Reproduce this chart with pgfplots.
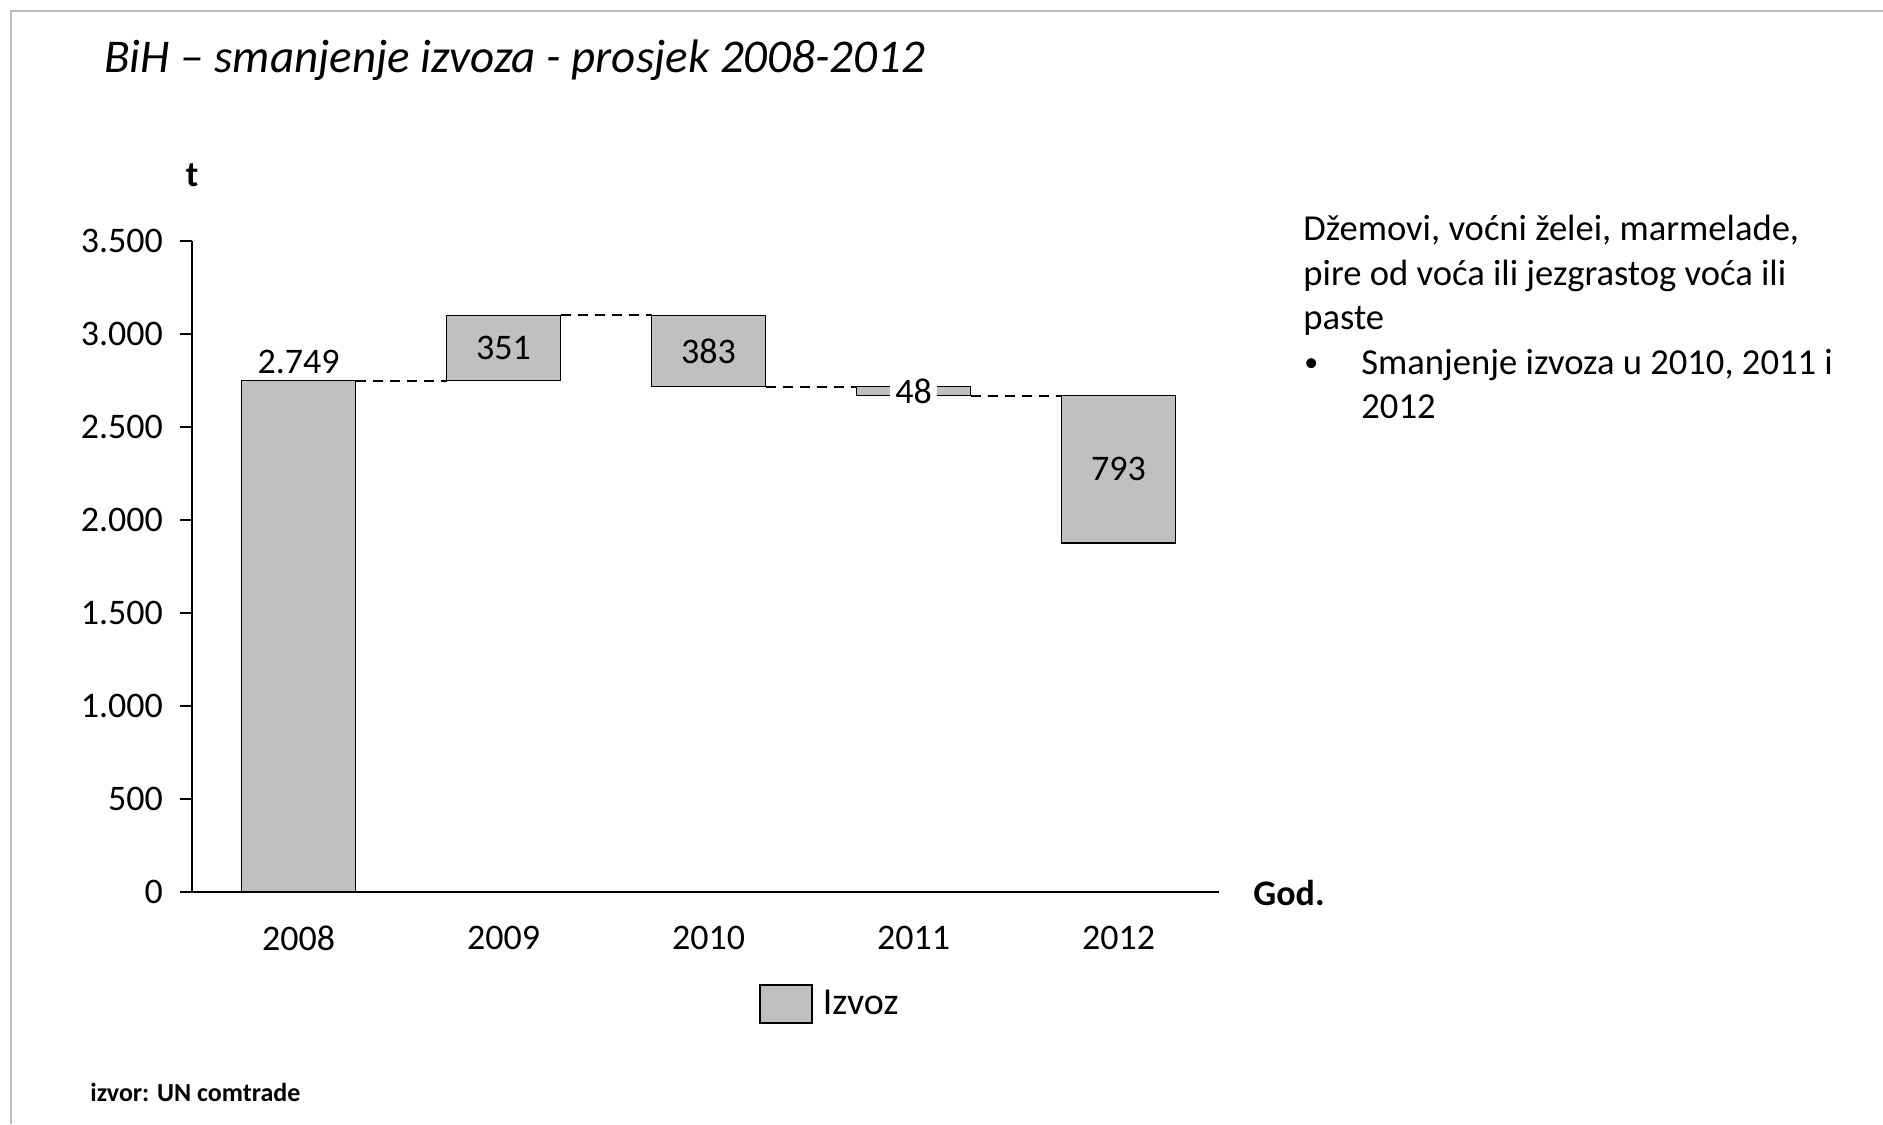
\documentclass[border=0pt]{standalone}
\usepackage{fontspec}
\setmainfont{Carlito}
\usepackage{pgfplots}
\pgfplotsset{compat=1.18}
\definecolor{barfill}{RGB}{192,192,192}
\definecolor{framegray}{RGB}{190,190,190}
\begin{document}
\begin{tikzpicture}
\path[use as bounding box] (0,0) rectangle (941.5pt,562pt);
\draw[framegray, line width=1.2pt] (5.5pt,0) -- (5.5pt,556.5pt) -- (941.5pt,556.5pt);
\pgfplotsset{
  wf/.style={
    scale only axis, width=513.5pt, height=325.5pt,
    at={(96pt,116pt)}, anchor=south west,
    xmin=-0.52, xmax=4.49, ymin=0, ymax=3500,
  }
}
\begin{axis}[wf,
  ybar stacked, bar width=57pt,
  axis x line*=bottom, axis y line*=left,
  axis line style={line width=0.9pt, black},
  xtick={0,1,2,3,4}, xticklabels={2008,2009,2010,2011,2012},
  xtick style={draw=none},
  ytick={0,500,1000,1500,2000,2500,3000,3500},
  scaled y ticks=false,
  tick align=outside, major tick length=6pt,
  ytick style={line width=0.9pt, black},
  /pgf/number format/assume math mode=true,
  /pgf/number format/1000 sep={.},
  tick label style={font=\fontsize{18}{20}\selectfont},
  yticklabel style={xshift=-5pt},
  xticklabel style={yshift=-7.5pt},
  legend style={at={(axis description cs:0.552,-0.172)}, anchor=west, draw=none, fill=none,
    font=\fontsize{19}{21}\selectfont, inner sep=0pt},
  legend image code/.code={\draw[#1, draw=black, line width=0.8pt] (0pt,-9.5pt) rectangle (26pt,9.5pt);},
]
\addplot[draw=none, fill=none, forget plot] coordinates {(0,0) (1,2749) (2,2717) (3,2669) (4,1876)};
\addplot[fill=barfill, draw=black, line width=0.8pt] coordinates {(0,2749) (1,351) (2,383) (3,48) (4,793)};
\addlegendentry{\hspace{3pt}Izvoz}
\end{axis}
\begin{axis}[wf, hide axis]
\addplot[black, line width=1pt, dash pattern=on 5pt off 3.5pt] coordinates {(0.278,2749) (0.722,2749)};
\addplot[black, line width=1pt, dash pattern=on 5pt off 3.5pt] coordinates {(1.278,3100) (1.722,3100)};
\addplot[black, line width=1pt, dash pattern=on 5pt off 3.5pt] coordinates {(2.278,2717) (2.722,2717)};
\addplot[black, line width=1pt, dash pattern=on 5pt off 3.5pt] coordinates {(3.278,2669) (3.722,2669)};
\node[font=\fontsize{18}{20}\selectfont, anchor=south] at (axis cs:0,2749) {2.749};
\node[font=\fontsize{18}{20}\selectfont] at (axis cs:1,2924.5) {351};
\node[font=\fontsize{18}{20}\selectfont] at (axis cs:2,2908.5) {383};
\node[font=\fontsize{18}{20}\selectfont, fill=white, inner xsep=2.5pt, inner ysep=0.5pt] at (axis cs:3,2693) {48};
\node[font=\fontsize{18}{20}\selectfont] at (axis cs:4,2272.5) {793};
\end{axis}
\node[anchor=base west, inner sep=0pt, font=\fontsize{23.5}{27}\selectfont\itshape] at (52pt,525.5pt) {BiH – smanjenje izvoza - prosjek 2008-2012};
\node[anchor=base, inner sep=0pt, font=\fontsize{18}{20}\selectfont\bfseries] at (96pt,468.5pt) {t};
\node[anchor=west, inner sep=0pt, font=\fontsize{18}{20}\selectfont\bfseries] at (626.5pt,115.5pt) {God.};
\begin{scope}[every node/.style={anchor=base west, inner sep=0pt, font=\fontsize{18.3}{22}\selectfont}]
\node at (651.5pt,441.5pt) {Džemovi, voćni želei, marmelade,};
\node at (651.5pt,419.3pt) {pire od voća ili jezgrastog voća ili};
\node at (651.5pt,397.1pt) {paste};
\node[font=\fontsize{14}{16}\selectfont] at (652pt,376pt) {•};
\node at (680.5pt,374.9pt) {Smanjenje izvoza u 2010, 2011 i};
\node at (680.5pt,352.7pt) {2012};
\end{scope}
\node[anchor=base west, inner sep=0pt, font=\fontsize{13}{15}\selectfont\bfseries] at (45pt,11.5pt) {izvor: UN comtrade};
\end{tikzpicture}
\end{document}
